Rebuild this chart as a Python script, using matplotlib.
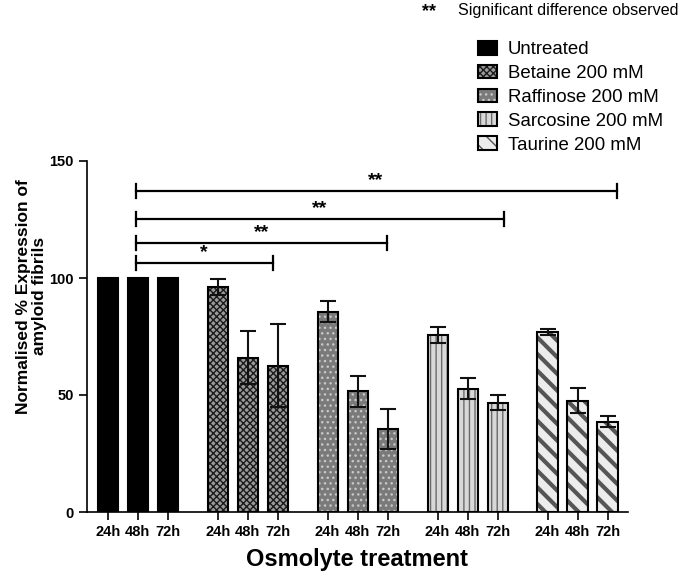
import numpy as np
import matplotlib.pyplot as plt
from matplotlib.patches import Patch
from matplotlib.legend_handler import HandlerTuple

plt.rcParams['font.family'] = ['Liberation Sans', 'DejaVu Sans']

# data
groups = ["Untreated", "Betaine 200 mM", "Raffinose 200 mM",
          "Sarcosine 200 mM", "Taurine 200 mM"]
times = ["24h", "48h", "72h"]
means = [
    [100, 100, 100],
    [96, 66, 62.5],
    [85.6, 51.5, 35.5],
    [75.6, 52.6, 46.7],
    [76.8, 47.6, 38.6],
]
errs = [
    [0, 0, 0],
    [3.4, 11.2, 17.8],
    [4.5, 6.7, 8.5],
    [3.4, 4.5, 3.3],
    [1.2, 5.5, 2.4],
]

# significance brackets (x in bar units, y in % units)
br_start = 0.93
br_end = [5.52, 9.33, 13.21, 16.99]
br_y = [106.5, 115.1, 125.2, 137.2]
br_label = ["*", "**", "**", "**"]
star_x = [3.21, 5.14, 7.08, 8.94]

# styles: face, hatch, hatch colour, hatch width
styles = [
    ("#000000", None, None, 0),
    ("#9a9a9a", "xxxxx", "#1a1a1a", 1.0),
    ("#7a7a7a", "...", "#c8c8c8", 1.0),
    ("#d8d8d8", "|||", "#6a6a6a", 1.0),
    ("#ececec", "\\\\", "#555555", 3.0),
]

fig = plt.figure(figsize=(6.85, 5.73), dpi=100)
ax = fig.add_axes([87 / 685, 1 - 512 / 573, (628 - 87) / 685, 351 / 573])

gap = 11 / 3
width = 0.67
handles = []
for g in range(len(groups)):
    xs = g * gap + np.arange(3)
    face, hatch, hcol, hlw = styles[g]
    if hatch is None:
        ax.bar(xs, means[g], width, color=face, edgecolor="black", lw=1.5, zorder=2)
        h = Patch(facecolor=face, edgecolor="black", lw=1.5)
    else:
        with plt.rc_context({"hatch.linewidth": hlw}):
            bars = ax.bar(xs, means[g], width, color=face, hatch=hatch,
                          edgecolor=hcol, lw=0, zorder=2)
            hp = Patch(facecolor=face, hatch=hatch, edgecolor=hcol, lw=0)
            for b in list(bars) + [hp]:
                if hasattr(b, "set_hatch_linewidth"):
                    b.set_hatch_linewidth(hlw)
        ax.bar(xs, means[g], width, fill=False, edgecolor="black", lw=1.5, zorder=3)
        op = Patch(fill=False, edgecolor="black", lw=1.5)
        h = (hp, op)
        ax.errorbar(xs, means[g], yerr=errs[g], fmt="none", ecolor="#111111",
                    elinewidth=1.5, capsize=6, capthick=1.5, zorder=4)
    handles.append(h)

# brackets
for xe, y, lab, sx in zip(br_end, br_y, br_label, star_x):
    ax.plot([br_start, xe], [y, y], color="black", lw=1.6, clip_on=False, zorder=5)
    for xx in (br_start, xe):
        ax.plot([xx, xx], [y - 3, y + 3], color="black", lw=1.6, clip_on=False, zorder=5)
    ax.text(sx, y + 0.8, lab, ha="center", va="bottom", fontsize=14,
            fontweight="bold")

ticks = [g * gap + j for g in range(len(groups)) for j in range(3)]
ax.set_xticks(ticks)
ax.set_xticklabels(times * len(groups), fontsize=10.5, fontweight="bold")
ax.set_xlim(-0.69, 17.35)
ax.set_ylim(0, 150)
ax.set_yticks([0, 50, 100, 150])
ax.set_yticklabels(["0", "50", "100", "150"], fontsize=10.5, fontweight="bold")
for s in ("top", "right"):
    ax.spines[s].set_visible(False)
for s in ("left", "bottom"):
    ax.spines[s].set_linewidth(1.2)
ax.tick_params(width=1.2, length=6)

ax.set_xlabel("Osmolyte treatment", fontsize=17, fontweight="bold", labelpad=6)
ax.set_ylabel("Normalised % Expression of\namyloid fibrils", fontsize=12.5,
              fontweight="bold", linespacing=1.05)
ax.yaxis.set_label_coords(-0.074, 0.615)

fig.legend(handles, groups, loc="upper left", bbox_to_anchor=(478 / 685, 1 - 41 / 573),
           frameon=False, fontsize=13.4, handlelength=1.0, handleheight=0.75,
           handletextpad=0.6, labelspacing=0.35, borderpad=0, borderaxespad=0,
           handler_map={tuple: HandlerTuple(ndivide=1)})

fig.text(422 / 685, 1 - 12 / 573, "**", fontsize=13, fontweight="bold", va="center")
fig.text(458 / 685, 1 - 10 / 573, "Significant difference observed", fontsize=11.6,
         va="center")

fig.savefig("out.png", dpi=100)
